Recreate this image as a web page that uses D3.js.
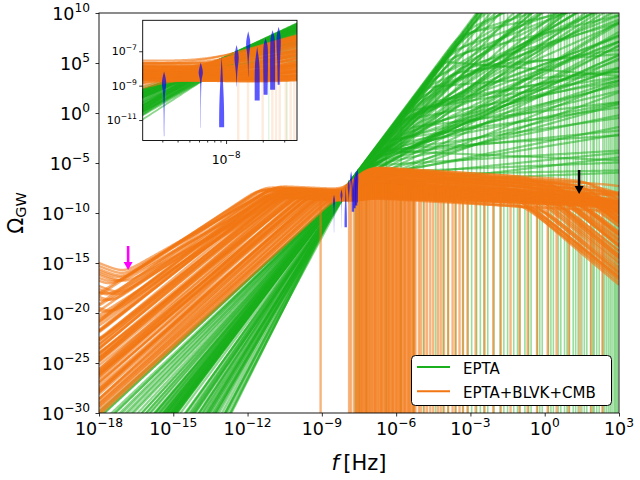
<!DOCTYPE html>
<html>
<head>
<meta charset="utf-8">
<script src="https://cdnjs.cloudflare.com/ajax/libs/d3/7.8.5/d3.min.js"></script>
<style>
  body { margin: 0; background: #fff; }
  text { font-family: 'DejaVu Sans', sans-serif; fill: #000; }
</style>
</head>
<body>
<svg id="chart" width="640" height="480"></svg>
<script>
'use strict';

// ---- EPTA samples: log10 amplitude at f = 10^-8.3 Hz, slope below knee, log10 knee f, slope above knee
var eptaAmp = [-8.30, -8.35, -8.40, -8.45, -8.30, -8.50, -8.35, -8.40,
	-8.30, -8.45, -8.20, -8.50, -8.35, -8.25, -8.40, -8.55, -8.30, -8.45,
	-8.30, -8.20, -8.45, -8.35, -8.25, -8.40, -8.50, -8.30,
	-8.40, -8.55, -8.35, -8.60, -8.45, -8.70, -8.40, -8.50, -8.60, -8.75, -8.45, -8.65,
	-8.90, -9.00, -8.80, -9.10, -8.95, -9.05, -8.85, -9.20, -9.00, -9.10,
	-8.30, -8.40, -8.35, -8.25, -8.45, -8.30, -8.40, -8.35,
	-8.32, -8.38, -8.28, -8.42, -8.33, -8.47, -8.36, -8.31, -8.44, -8.29, -8.39, -8.34, -8.41, -8.27, -8.48, -8.35,
	-8.55, -8.65, -8.70, -8.80, -8.90, -8.60, -8.75, -8.85, -8.55, -8.95, -8.65, -8.80, -8.45, -9.00, -9.15, -8.70,
	-8.33, -8.42, -8.27, -8.36, -8.45, -8.31, -8.39, -8.48];
var eptaSlopeLow = [3.30, 3.25, 3.28, 3.20, 3.32, 3.22, 3.15, 3.10,
	3.00, 2.90, 2.80, 2.70, 3.05, 2.95, 2.60, 2.75, 2.85, 3.10,
	2.40, 2.30, 2.50, 2.25, 2.55, 2.35, 2.20, 2.45,
	3.50, 3.70, 3.90, 4.10, 4.30, 4.50, 4.70, 4.90, 3.60, 4.00, 3.80, 4.40,
	3.60, 3.90, 3.50, 3.70, 4.20, 3.80, 3.40, 4.60, 3.55, 4.00,
	3.25, 3.20, 3.30, 3.10, 3.15, 3.28, 3.05, 3.20,
	3.27, 3.18, 3.12, 3.24, 3.05, 3.16, 2.98, 3.08, 3.21, 2.92, 3.02, 3.14, 2.96, 3.19, 3.09, 3.23,
	3.35, 3.45, 3.65, 3.75, 3.95, 4.05, 4.15, 4.25, 4.35, 4.55, 4.65, 4.80, 4.95, 3.85, 4.10, 3.55,
	2.28, 2.38, 2.48, 2.58, 2.65, 2.72, 2.82, 2.88];
var eptaKnee = [0.5, -1.0, -2.0, -3.0, -3.5, -2.5, -4.0, -4.5,
	-5.0, -4.5, -5.5, -3.5, -6.0, -6.5, -4.0, -5.0, -7.0, -5.5,
	-6.0, -7.0, -5.5, -4.0, -6.5, -7.5, -5.0, -3.0,
	-8.1, -8.0, -8.2, -8.05, -8.2, -8.0, -8.25, -8.2, -7.8, -7.9, -8.15, -8.1,
	-7.3, -7.6, -7.0, -6.6, -7.6, -6.9, -6.8, -7.7, -6.0, -7.2,
	-3.8, -5.5, -6.5, -7.0, -4.8, -4.2, -5.8, -3.2,
	-1.5, -2.2, -3.2, -3.8, -4.2, -4.8, -5.2, -5.8, -2.8, -6.2, -3.6, -4.6, -5.6, -1.8, -6.8, -4.0,
	-7.0, -7.2, -7.5, -7.4, -7.5, -7.95, -7.8, -7.7, -8.1, -7.8, -8.05, -8.0, -8.25, -7.0, -7.2, -6.9,
	-6.8, -5.2, -4.5, -7.2, -6.0, -3.8, -5.0, -7.8];
var eptaSlopeHigh = [1.0, 1.2, 0.9, 1.1, 0.8, 1.4, 1.0, 1.5,
	1.2, 0.9, 1.1, 0.7, 1.3, 0.6, 1.0, 0.5, 1.6, 0.4,
	0.8, 1.1, 0.3, 0.9, 0.5, 1.3, 0.6, 0.2,
	1.5, 2.0, 1.2, 2.4, 0.9, 1.8, 2.6, 1.0, 0.5, 1.4, 3.0, 0.3,
	0.15, 0.05, 0.25, 0.35, 0.1, 0.6, -0.1, 0.4, 0.45, 0.75,
	2.0, 1.8, 1.6, 2.2, 0.2, -0.2, 0.9, 0.5,
	1.3, 0.7, 1.6, 0.9, 1.8, 1.1, 1.4, 2.0, 1.7, 1.5, 0.6, 1.25, 0.95, 0.55, 1.9, 1.45,
	1.2, 0.8, 1.6, 0.5, 1.1, 2.2, 0.7, 1.9, 1.3, 0.25, 2.8, 1.5, 2.0, 0.35, 0.9, 0.15,
	0.6, 1.0, 0.4, 1.2, 0.85, 0.35, 1.45, 0.1];
// log10 f where an EPTA sample drops to zero
var eptaDropF = [-7.65, -7.5, -7.2, -6.4, -5.8, -5.3, -4.9, -4.4, -4.1, -3.9, -3.6, -3.3, -3.1, -2.95,
	-2.75, -2.6, -2.45, -2.3, -2.05, -1.8, -1.65, -1.5, -1.25, -1.1, -1.0, -0.8, -0.65, -0.55,
	-0.3, -0.2, -0.1, 0.15, 0.25, 0.35, 0.55, 0.65, 0.8, 0.9, 1.0, 1.15, 1.25, 1.35, 1.5, 1.6,
	1.7, 1.85, 1.95, 2.0, 2.1, 2.2, 2.35, 2.42, 2.5, 2.58, 2.65, 2.72, 2.8, 2.85, 2.9, 2.95];

// ---- EPTA+BLVK+CMB samples
var comboTail = [-15.0, -15.6, -16.2, -16.8, -17.3, -17.9, -18.4, -19.0, -19.5, -20.1, null, null, -16.0, -18.0, null, -21.0,
	-21.5, null, -22.5, null, null, -23.5, null, null, null, -24.2, null, null, null, -25.0, null, null,
	null, null, null, null, null, null, null, null, null, null, null, null, null, null, -23.0, null,
	null, null, null, null, null, null, null, null, null, null, null, null, -22.0, null, null, null,
	null, null, -22.8, null, null, null, null, null, null, null, null, null, null, null, null, -24.5, null, null, null, null,
	-15.3, -16.5, -17.6, -18.7, -19.8, -20.6, null, -15.8];
var comboSlope = [1.40, 1.50, 1.45, 1.60, 1.55, 1.65, 1.70, 1.60, 1.75, 1.70, 1.80, 1.65, 1.35, 1.50, 1.75, 1.80,
	1.90, 1.88, 1.95, 1.92, 2.00, 1.98, 1.90, 2.05, 2.02, 2.08, 1.95, 2.10, 2.00, 2.12, 2.05, 2.15,
	1.98, 2.10, 2.18, 2.05, 2.20, 2.12, 2.08, 2.22, 2.15, 2.25, 2.18, 2.28, 2.20, 2.26, 1.96, 2.02,
	2.14, 2.24, 1.93, 2.06, 2.16, 2.30, 2.22, 2.27, 2.04, 2.11, 2.17, 2.23, 1.91, 1.97, 2.09, 2.19,
	1.89, 1.94, 1.99, 2.03, 2.07, 2.01, 2.13, 2.09, 2.16, 2.21, 2.14, 2.24, 2.29, 2.20, 2.26, 2.05, 1.99, 2.11, 2.18, 2.25,
	1.45, 1.55, 1.62, 1.68, 1.72, 1.78, 1.58, 1.38];
var comboPeakF = [-10.8, -11.0, -10.6, -11.3, -10.4, -11.1, -10.9, -11.5, -10.5, -11.2, -10.7, -11.6, -10.2, -10.3, -11.4, -11.0,
	-11.4, -11.2, -11.0, -10.8, -11.3, -10.6, -10.2, -11.0, -10.4, -10.9, -9.8, -10.7, -9.6, -10.3, -9.9, -10.5,
	-9.3, -9.7, -10.1, -9.2, -9.9, -9.5, -9.0, -9.6, -9.1, -9.4, -8.9, -9.2, -8.8, -8.9, -10.9, -10.1,
	-9.8, -9.3, -10.5, -10.0, -9.4, -8.7, -8.6, -8.5, -10.6, -10.2, -9.7, -9.0, -11.1, -10.4, -9.5, -9.1,
	-11.3, -11.0, -10.7, -10.5, -10.2, -9.9, -9.8, -9.4, -9.6, -9.3, -8.95, -8.9, -8.8, -8.65, -8.55, -10.3, -10.0, -9.65, -9.2, -8.75,
	-10.9, -11.2, -10.6, -11.0, -10.5, -11.3, -10.1, -10.5];
var comboPeakAmp = [-7.30, -7.45, -7.55, -7.40, -7.70, -7.60, -7.80, -7.65, -7.90, -7.75, -7.85, -7.70, -7.95, -7.50, -7.55, -8.00,
	-8.20, -8.10, -8.25, -8.00, -8.30, -8.15, -7.95, -8.35, -8.20, -8.40, -8.05, -8.30, -8.10, -8.25, -8.15, -8.45,
	-8.00, -8.20, -8.40, -8.10, -8.35, -8.30, -8.15, -8.45, -8.25, -8.50, -8.30, -8.55, -8.40, -8.60, -8.05, -8.20,
	-8.30, -8.45, -8.10, -8.25, -8.35, -8.65, -8.55, -8.70, -8.20, -8.35, -8.40, -8.50, -8.15, -8.10, -8.30, -8.45,
	-8.15, -8.20, -8.25, -8.30, -8.35, -8.10, -8.40, -8.20, -8.45, -8.50, -8.30, -8.55, -8.65, -8.50, -8.60, -8.25, -8.15, -8.30, -8.40, -8.55,
	-7.40, -7.55, -7.70, -7.80, -7.85, -7.90, -7.75, -7.60];
var comboBumpAmp = [-5.8, -6.0, -6.6, -6.3, -7.2, -7.0, -5.95, -8.2, -7.6, -6.8, -6.1, -8.6, -6.4, -5.75, -8.0, -7.1,
	-6.2, -7.5, -5.9, -8.3, -7.2, -6.0, -8.8, -6.7, -5.8, -7.9, -6.4, -8.5, -7.8, -5.8, -6.8, -9.0,
	-6.3, -5.85, -8.4, -6.6, -7.4, -6.0, -8.7, -6.2, -5.9, -7.1, -6.5, -7.9, -6.9, -6.0, -8.1, -6.7,
	-7.3, -9.3, -5.9, -7.6, -6.1, -8.6, -8.5, -6.8, -6.3, -7.7, -6.6, -8.0, -6.05, -8.9, -7.5, -6.45,
	-7.9, -8.6, -7.4, -8.9, -7.0, -8.3, -9.1, -7.6, -8.7, -8.0, -9.0, -7.3, -8.8, -7.8, -9.2, -8.4, -7.7, -8.5, -6.9, -8.2,
	-6.7, -7.8, -6.2, -8.3, -7.2, -6.9, -7.5, -8.1];
var comboBumpDecay = [0.15, 0.20, 0.10, 0.25, 0.30, 0.12, 0.35, 0.18, 0.08, 0.22, 0.28, 0.10, 0.40, 0.16, 0.05, 0.26,
	0.20, 0.15, 0.25, 0.10, 0.30, 0.18, 0.05, 0.35, 0.22, 0.12, 0.28, 0.16, 0.08, 0.20, 0.32, 0.14,
	0.24, 0.19, 0.06, 0.27, 0.11, 0.23, 0.09, 0.33, 0.17, 0.21, 0.13, 0.07, 0.29, 0.15, 0.20, 0.25,
	0.12, 0.18, 0.30, 0.10, 0.22, 0.26, 0.05, 0.14, 0.19, 0.23, 0.16, 0.09, 0.27, 0.13, 0.21, 0.31,
	0.10, 0.08, 0.18, 0.05, 0.24, 0.12, 0.06, 0.20, 0.09, 0.15, 0.04, 0.28, 0.10, 0.17, 0.05, 0.13, 0.22, 0.11, 0.30, 0.14,
	0.20, 0.12, 0.26, 0.10, 0.18, 0.24, 0.15, 0.09];
var comboCutoff = [-0.5, 0.5, 1.5, 2.0, -1.0, 3.0, 0.0, 1.0, 4.0, 2.5, -1.5, 3.5, 0.2, 1.8, 5.0, -0.8,
	1.5, 2.2, 0.5, 3.2, -0.2, 1.0, 4.5, -1.2, 2.8, 1.8, 0.0, 3.8, 0.8, 1.3, 2.4, -0.6,
	4.2, 0.3, 3.0, 1.9, -1.6, 2.6, 5.2, 0.6, 3.4, -0.4, 1.6, 4.0, 0.1, 2.1, 2.9, -0.9,
	1.4, 3.6, 0.4, 2.3, 4.6, -0.1, 3.1, 1.2, 0.7, 2.7, -0.3, 3.9, 1.7, -1.0, 2.0, 4.4,
	2.3, 3.1, 1.1, 4.4, 0.1, 2.7, 3.8, -0.8, 1.5, 4.6, 2.2, 0.9, 3.3, -0.1, 2.8, 1.8, 0.5, 3.9, -1.2, 2.5,
	1.3, 2.6, 0.4, 3.4, -0.6, 1.9, 0.7, 2.9];
var comboDropF = [-9.05, -7.9, -7.82, -7.7, -7.62, -7.59, -7.56, -7.51, -7.47, -7.44, -7.40, -7.37, -7.34, -7.29,
	-7.25, -7.22, -7.19, -7.15, -7.11, -7.07, -7.04, -6.99, -6.96, -6.91, -6.87, -6.84, -6.81, -6.76,
	-6.72, -6.68, -6.63, -6.60, -6.58, -6.53, -6.48, -6.44, -6.41, -6.36, -6.32, -6.29, -6.26, -6.21,
	-6.16, -6.13, -6.11, -6.05, -6.01, -5.97, -5.94, -5.89, -5.85, -5.82, -5.79, -5.74, -5.69, -5.65,
	-5.62, -5.57, -5.51, -5.48, -5.45, -5.39, -5.34, -5.30, -5.27, -5.22, -5.08, -5.0, -4.86, -4.75,
	-4.62, -4.5, -4.31, -4.2, -4.07, -3.9, -3.72, -3.6, -3.44, -3.3, -3.12, -2.79, -2.43, -2.08,
	-1.77, -1.38, -1.02, -0.69, -0.31, 0.12, 0.48, 0.97, 1.42, 1.88, 2.33];

// ---- EPTA frequency bins and their posterior shapes [log10 Omega, relative half width]
var binFreq = [3.1e-9, 6.2e-9, 9.2e-9, 1.22e-8, 1.52e-8, 1.80e-8, 2.11e-8, 2.41e-8, 2.70e-8];
var binShapes = [
	[[-8.18, 0], [-8.5, 0.6], [-8.85, 1], [-9.2, 0.6], [-9.53, 0.3], [-10.5, 0.15], [-11.94, 0.08]],
	[[-7.66, 0], [-7.95, 0.6], [-8.27, 1], [-8.5, 0.5], [-8.76, 0.2], [-10.0, 0.08], [-11.45, 0.05]],
	[[-7.31, 0], [-7.8, 0.2], [-8.37, 0.4], [-9.0, 0.6], [-9.7, 0.85], [-10.5, 1], [-11.42, 1]],
	[[-6.64, 0], [-7.0, 0.6], [-7.37, 1], [-7.8, 0.6], [-8.3, 0.2], [-9.05, 0.05]],
	[[-5.83, 0], [-6.2, 0.6], [-6.6, 1], [-7.0, 0.5], [-7.6, 0.15], [-8.47, 0.05]],
	[[-6.73, 0], [-7.2, 0.45], [-7.79, 1], [-9.0, 1], [-9.87, 1]],
	[[-6.25, 0], [-6.5, 0.6], [-6.81, 1], [-8.0, 0.95], [-8.76, 0.85], [-9.53, 0.8]],
	[[-5.77, 0], [-6.05, 0.6], [-6.35, 1], [-8.0, 1], [-9.24, 1]],
	[[-5.58, 0], [-5.9, 0.6], [-6.35, 1], [-7.5, 0.55], [-8.3, 0.45], [-8.95, 0.4]]
];

// ---- arrows (frequency, from, to) and ticks
var arrowF = [1.5e-17, 24.5];
var arrowFrom = [5e-14, 2e-6];
var arrowTo = [2e-16, 8e-9];
var arrowColors = ['#ff00ff', '#000000'];

var xTicks = [1e-18, 1e-15, 1e-12, 1e-9, 1e-6, 1e-3, 1e0, 1e3];
var yTicks = [1e-30, 1e-25, 1e-20, 1e-15, 1e-10, 1e-5, 1e0, 1e5, 1e10];
var insetXTicks = [1e-8];
var insetXMinor = [3e-9, 4e-9, 5e-9, 6e-9, 7e-9, 8e-9, 9e-9, 2e-8, 3e-8];
var insetYTicks = [1e-11, 1e-9, 1e-7];
var seriesNames = ['EPTA', 'EPTA+BLVK+CMB'];

var GREEN = '#1aaf1c';
var ORANGE = '#f27612';
var PIVOT = -8.3;
var BUMP_F = -7.2;

function soft(d, s) {
	return s * Math.log10(1 + Math.pow(10, d / s));
}

function lse(parts) {
	var m = d3.max(parts);
	return m + Math.log10(d3.sum(parts, function (v) { return Math.pow(10, v - m); }));
}

function eptaCurve(i, L) {
	var n1 = eptaSlopeLow[i];
	var yk = eptaAmp[i] + n1 * (eptaKnee[i] - PIVOT);
	var d = L - eptaKnee[i];
	return yk + n1 * d - (n1 - eptaSlopeHigh[i]) * soft(d, 0.25);
}

function comboCurve(i, L) {
	var dA = L - comboPeakF[i];
	var a = comboPeakAmp[i] + comboSlope[i] * dA - (comboSlope[i] + 0.12) * soft(dA, 0.3);
	var dB = L - BUMP_F;
	var k = 2.5 + comboBumpDecay[i];
	var b = comboBumpAmp[i] + 2.5 * dB - k * soft(dB, 0.5) + k * 0.5 * Math.log10(2);
	var parts = [a, b];
	if (comboTail[i] !== null) {
		parts.push(comboTail[i] - (L + 18));
	}
	return lse(parts) - 1.8 * soft(L - comboCutoff[i], 0.6);
}

function grid(lo, hi, step) {
	var out = [];
	for (var L = lo; L <= hi + 1e-9; L += step) {
		out.push(L);
	}
	return out;
}

// opt: line width/opacity and drop-line opacity for this panel
function drawPanel(g, sx, sy, Ls, opt) {
	var line = d3.line()
		.x(function (d) { return sx(Math.pow(10, d[0])); })
		.y(function (d) { return sy(Math.pow(10, Math.max(-60, Math.min(40, d[1])))); });
	var bottom = sy(1e-60);

	g.append('g')
		.selectAll('path')
		.data(d3.range(eptaAmp.length))
		.enter()
		.append('path')
		.attr('d', function (i) {
			return line(Ls.map(function (L) { return [L, eptaCurve(i, L)]; }));
		})
		.attr('fill', 'none')
		.attr('stroke', GREEN)
		.attr('stroke-width', opt.greenWidth)
		.attr('stroke-opacity', 0.5);

	g.append('g')
		.selectAll('line')
		.data(eptaDropF)
		.enter()
		.append('line')
		.attr('x1', function (L) { return sx(Math.pow(10, L)); })
		.attr('x2', function (L) { return sx(Math.pow(10, L)); })
		.attr('y1', function (L) {
			var top = d3.max(d3.range(eptaAmp.length), function (i) { return eptaCurve(i, L); });
			return sy(Math.pow(10, Math.min(40, top)));
		})
		.attr('y2', bottom)
		.attr('stroke', GREEN)
		.attr('stroke-width', 1.6)
		.attr('stroke-opacity', opt.dropOpacity * 0.8);

	g.append('g')
		.selectAll('path')
		.data(d3.range(comboSlope.length))
		.enter()
		.append('path')
		.attr('d', function (i) {
			return line(Ls.map(function (L) { return [L, comboCurve(i, L)]; }));
		})
		.attr('fill', 'none')
		.attr('stroke', ORANGE)
		.attr('stroke-width', opt.orangeWidth)
		.attr('stroke-opacity', 0.6);

	g.append('g')
		.selectAll('line')
		.data(comboDropF)
		.enter()
		.append('line')
		.attr('x1', function (L) { return sx(Math.pow(10, L)); })
		.attr('x2', function (L) { return sx(Math.pow(10, L)); })
		.attr('y1', function (L) {
			var mid = d3.median(d3.range(comboSlope.length), function (i) { return comboCurve(i, L); });
			return sy(Math.pow(10, mid));
		})
		.attr('y2', bottom)
		.attr('stroke', ORANGE)
		.attr('stroke-width', 2.4)
		.attr('stroke-opacity', opt.dropOpacity);

	var area = d3.area()
		.curve(d3.curveBasis)
		.y(function (d) { return sy(Math.pow(10, d[0])); });
	g.append('g')
		.selectAll('path')
		.data(binShapes)
		.enter()
		.append('path')
		.attr('d', function (s, k) {
			var cx = sx(binFreq[k]);
			return area
				.x0(function (d) { return cx - d[1] * opt.violinHalf; })
				.x1(function (d) { return cx + d[1] * opt.violinHalf; })(s);
		})
		.attr('fill', '#0000ff')
		.attr('fill-opacity', 0.65);
}

function powLabel(sel, v, size) {
	var e = Math.round(Math.log10(v));
	sel.append('tspan').text('10');
	sel.append('tspan')
		.attr('dy', -0.45 * size)
		.attr('font-size', 0.7 * size)
		.text(e < 0 ? '\u2212' + (-e) : String(e));
}

var svg = d3.select('#chart');
svg.append('rect').attr('width', 640).attr('height', 480).attr('fill', '#fff');

var x = d3.scaleLog().domain([1e-18, 1e3]).range([99, 619]);
var y = d3.scaleLog().domain([1e-30, 1e10]).range([413, 13]);

var defs = svg.append('defs');
defs.append('clipPath').attr('id', 'clip-main')
	.append('rect').attr('x', 99).attr('y', 13).attr('width', 520).attr('height', 400);

var plot = svg.append('g').attr('clip-path', 'url(#clip-main)');
drawPanel(plot, x, y, grid(-18, 3, 0.02),
	{greenWidth: 2.2, orangeWidth: 2.4, dropOpacity: 0.55, violinHalf: 1.2});

// axes
svg.append('g')
	.attr('transform', 'translate(0,413)')
	.call(d3.axisBottom(x).tickValues(xTicks).tickSize(3.5).tickFormat(''))
	.call(function (g) { g.select('.domain').remove(); });
svg.append('g')
	.attr('transform', 'translate(99,0)')
	.call(d3.axisLeft(y).tickValues(yTicks).tickSize(3.5).tickFormat(''))
	.call(function (g) { g.select('.domain').remove(); });
svg.selectAll('.tick line').attr('stroke', '#000').attr('stroke-width', 0.8);

svg.append('rect')
	.attr('x', 99).attr('y', 13).attr('width', 520).attr('height', 400)
	.attr('fill', 'none').attr('stroke', '#000').attr('stroke-width', 0.9);

xTicks.forEach(function (v) {
	svg.append('text')
		.attr('x', x(v)).attr('y', 434.5)
		.attr('text-anchor', 'middle')
		.attr('font-size', 17.5)
		.call(powLabel, v, 17.5);
});
yTicks.forEach(function (v) {
	svg.append('text')
		.attr('x', 90).attr('y', y(v) + 7)
		.attr('text-anchor', 'end')
		.attr('font-size', 17.5)
		.call(powLabel, v, 17.5);
});

var xl = svg.append('text')
	.attr('x', 359).attr('y', 470)
	.attr('text-anchor', 'middle')
	.attr('font-size', 21);
xl.append('tspan').attr('font-style', 'italic').text('f');
xl.append('tspan').text('\u2009[Hz]');

var yl = svg.append('text')
	.attr('transform', 'translate(23,213) rotate(-90)')
	.attr('text-anchor', 'middle')
	.attr('font-size', 21);
yl.append('tspan').text('\u03a9');
yl.append('tspan').attr('font-size', 14.5).attr('dy', 3).text('GW');

// arrows
arrowF.forEach(function (f, k) {
	var ax = x(f), y0 = y(arrowFrom[k]), y1 = y(arrowTo[k]);
	var a = svg.append('g');
	a.append('line')
		.attr('x1', ax).attr('x2', ax).attr('y1', y0).attr('y2', y1 - 6)
		.attr('stroke', arrowColors[k]).attr('stroke-width', 2.6);
	a.append('path')
		.attr('d', 'M' + (ax - 4.5) + ',' + (y1 - 8) + 'L' + (ax + 4.5) + ',' + (y1 - 8) + 'L' + ax + ',' + y1 + 'Z')
		.attr('fill', arrowColors[k]);
});

// inset
var ix = d3.scaleLog().domain([2.07e-9, 3.82e-8]).range([142.7, 297]);
var iy = d3.scaleLog().domain([Math.pow(10, -12.19), Math.pow(10, -5.2)]).range([140.5, 20.3]);
defs.append('clipPath').attr('id', 'clip-inset')
	.append('rect').attr('x', 142.7).attr('y', 20.3).attr('width', 154.3).attr('height', 120.2);
svg.append('rect')
	.attr('x', 142.7).attr('y', 20.3).attr('width', 154.3).attr('height', 120.2)
	.attr('fill', '#fff');
var inset = svg.append('g').attr('clip-path', 'url(#clip-inset)');
drawPanel(inset, ix, iy, grid(-8.75, -7.35, 0.01),
	{greenWidth: 1.8, orangeWidth: 2, dropOpacity: 0.15, violinHalf: 2.5});

svg.append('g')
	.attr('transform', 'translate(0,140.5)')
	.call(d3.axisBottom(ix).tickValues(insetXTicks).tickSize(3.5).tickFormat(''))
	.call(function (g) { g.select('.domain').remove(); });
svg.append('g')
	.attr('transform', 'translate(0,140.5)')
	.call(d3.axisBottom(ix).tickValues(insetXMinor).tickSize(2).tickFormat(''))
	.call(function (g) { g.select('.domain').remove(); });
svg.append('g')
	.attr('transform', 'translate(142.7,0)')
	.call(d3.axisLeft(iy).tickValues(insetYTicks).tickSize(3.5).tickFormat(''))
	.call(function (g) { g.select('.domain').remove(); });
svg.selectAll('.tick line').attr('stroke', '#000').attr('stroke-width', 0.8);
svg.append('rect')
	.attr('x', 142.7).attr('y', 20.3).attr('width', 154.3).attr('height', 120.2)
	.attr('fill', 'none').attr('stroke', '#000').attr('stroke-width', 0.9);

insetXTicks.forEach(function (v) {
	svg.append('text')
		.attr('x', ix(v)).attr('y', 164)
		.attr('text-anchor', 'middle')
		.attr('font-size', 12.5)
		.call(powLabel, v, 12.5);
});
insetYTicks.forEach(function (v) {
	svg.append('text')
		.attr('x', 137).attr('y', iy(v) + 4)
		.attr('text-anchor', 'end')
		.attr('font-size', 11)
		.call(powLabel, v, 11);
});

// legend
var legend = svg.append('g');
legend.append('rect')
	.attr('x', 411.5).attr('y', 355.5).attr('width', 200).attr('height', 50).attr('rx', 4)
	.attr('fill', '#fff').attr('stroke', '#000').attr('stroke-width', 1);
seriesNames.forEach(function (name, k) {
	var yy = 367 + k * 24.3;
	legend.append('line')
		.attr('x1', 417).attr('x2', 450).attr('y1', yy).attr('y2', yy)
		.attr('stroke', [GREEN, ORANGE][k]).attr('stroke-width', 2);
	legend.append('text')
		.attr('x', 463).attr('y', yy + 6.5)
		.attr('font-size', 15)
		.text(name);
});
</script>
</body>
</html>
